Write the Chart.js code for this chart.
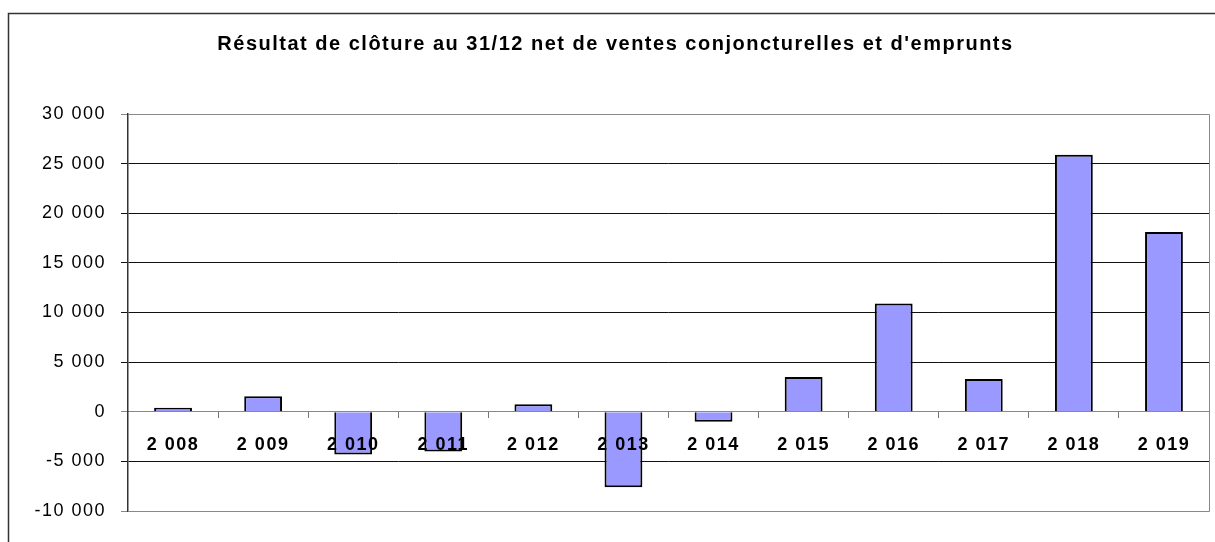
<!DOCTYPE html>
<html>
<head>
<meta charset="utf-8">
<script src="https://cdn.jsdelivr.net/npm/chart.js@4/dist/chart.umd.min.js"></script>
<style>
  html, body { margin: 0; padding: 0; background: #fff; }
  canvas { display: block; }
</style>
</head>
<body>
<canvas id="chart" width="1215" height="542"></canvas>
<script>
// values
const years = ["2 008", "2 009", "2 010", "2 011", "2 012", "2 013", "2 014", "2 015", "2 016", "2 017", "2 018", "2 019"];
const resultats = [400, 1550, -4300, -4000, 750, -7600, -1000, 3500, 10900, 3300, 25900, 18100];
const yTicks = [-10000, -5000, 0, 5000, 10000, 15000, 20000, 25000, 30000];

const FONT = "Arial, 'Liberation Sans', sans-serif";

const fmt = (n) => {
  const s = String(Math.abs(n)).replace(/\B(?=(\d{3})+(?!\d))/g, " ");
  return (n < 0 ? "-" : "") + s;
};

// the spreadsheet renders its text slightly spaced out
const spacing = (chart) => { chart.ctx.letterSpacing = "1.5px"; };

// outer frame + grey plot border, like the spreadsheet chart
const framePlugin = {
  id: "frame",
  beforeUpdate: spacing,
  beforeLayout: spacing,
  beforeDraw(chart) {
    spacing(chart);
    const ctx = chart.ctx;
    ctx.save();
    ctx.strokeStyle = "#333";
    ctx.lineWidth = 1.5;
    ctx.strokeRect(8.5, 13.5, 1400, 800);
    ctx.restore();
  },
  afterDatasetsDraw(chart) {
    const a = chart.chartArea;
    const ctx = chart.ctx;
    ctx.save();
    ctx.strokeStyle = "#888";
    ctx.lineWidth = 1;
    ctx.beginPath();
    ctx.moveTo(a.left, Math.round(a.top) + 0.5);
    ctx.lineTo(Math.round(a.right) + 0.5, Math.round(a.top) + 0.5);
    ctx.lineTo(Math.round(a.right) + 0.5, Math.round(a.bottom) + 0.5);
    ctx.lineTo(a.left, Math.round(a.bottom) + 0.5);
    ctx.stroke();
    ctx.restore();
  },
};

new Chart(document.getElementById("chart"), {
  type: "bar",
  data: {
    labels: years,
    datasets: [{
      data: resultats,
      backgroundColor: "#9999ff",
      borderColor: "#000",
      borderWidth: 2,
      barPercentage: 0.42,
      categoryPercentage: 1,
    }],
  },
  options: {
    responsive: false,
    animation: false,
    layout: { padding: { left: 22, right: 6, top: 0, bottom: 31 } },
    plugins: {
      legend: { display: false },
      tooltip: { enabled: false },
      title: {
        display: true,
        text: "Résultat de clôture au 31/12 net de ventes conjoncturelles et d'emprunts",
        color: "#000",
        font: { family: FONT, size: 20, weight: "bold" },
        padding: { top: 32, bottom: 58 },
      },
    },
    scales: {
      x: {
        position: { y: 0 },
        offset: true,
        grid: {
          display: true,
          drawOnChartArea: false,
          drawTicks: true,
          tickLength: 6,
          offset: true,
          color: "#777",
        },
        border: { display: true, color: "#888", width: 1 },
        ticks: {
          z: 1,
          color: "#000",
          padding: 16,
          maxRotation: 0,
          autoSkip: false,
          font: { family: FONT, size: 18, weight: "bold" },
        },
      },
      y: {
        min: -10000,
        max: 30000,
        afterBuildTicks(scale) {
          scale.ticks = yTicks.map((v) => ({ value: v }));
        },
        afterFit(scale) {
          scale.width = 106;
        },
        grid: {
          color: (c) => ([30000, 0, -10000].includes(c.tick && c.tick.value) ? "#888" : "#111"),
          lineWidth: 1,
          tickLength: 7,
          drawTicks: true,
        },
        border: { display: true, color: "#333", width: 1.5 },
        ticks: {
          color: "#000",
          padding: 15,
          callback: (v) => fmt(v),
          font: { family: FONT, size: 18 },
        },
      },
    },
  },
  plugins: [framePlugin],
});
</script>
</body>
</html>
